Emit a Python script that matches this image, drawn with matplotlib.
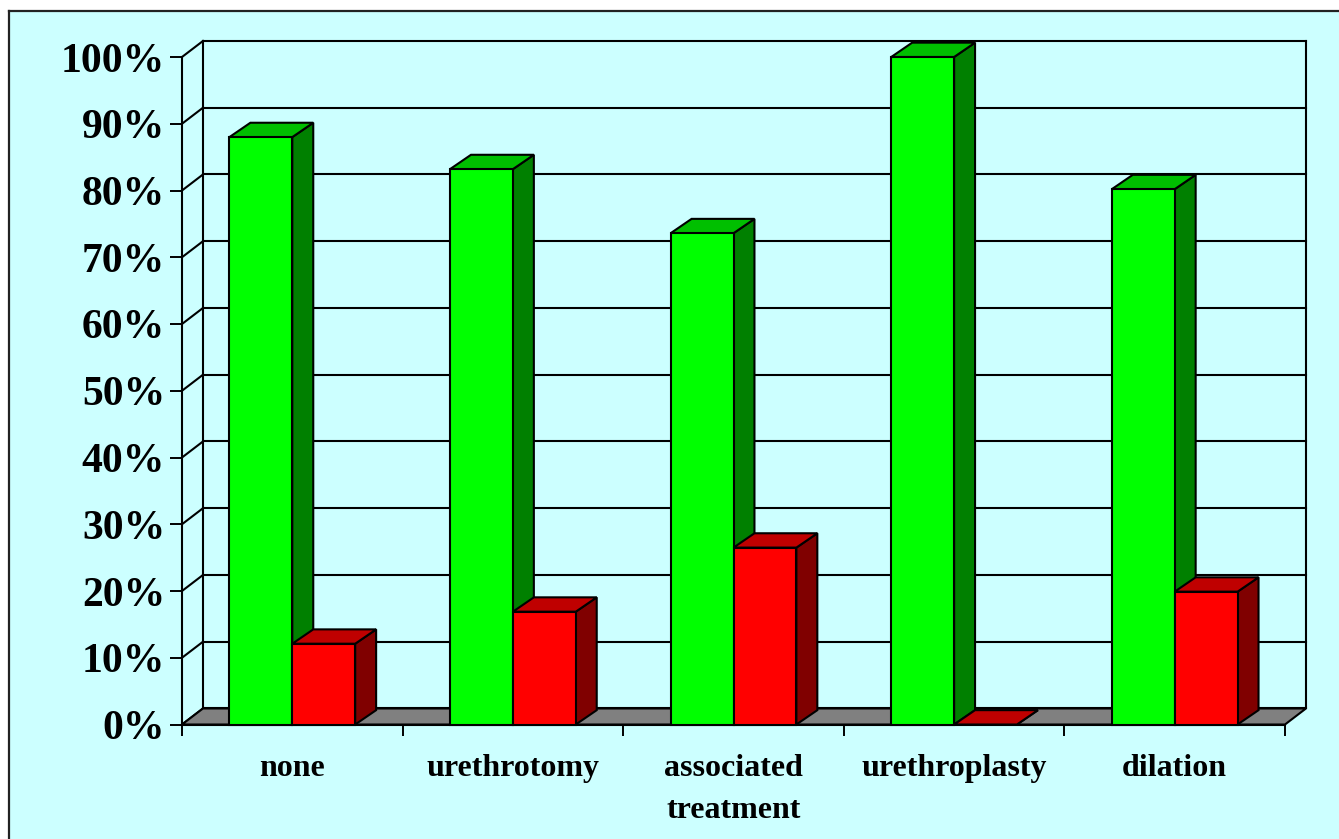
import matplotlib
matplotlib.use("Agg")
import matplotlib.pyplot as plt
from matplotlib.patches import Rectangle

categories = ["none", "urethrotomy", "associated\ntreatment", "urethroplasty", "dilation"]
green_values = [88, 83.2, 73.6, 100, 80.2]
red_values = [12.1, 16.9, 26.5, 0, 19.9]
y_ticks = list(range(0, 101, 10))

W, H = 1339, 839
# depth of the fake 3D, in data units
dx = 0.095
dy = 2.4
bar_dy = 2.15
bar_w = 0.285

plt.rcParams["font.family"] = ["Liberation Serif", "DejaVu Serif"]
plt.rcParams["font.weight"] = "bold"

fig = plt.figure(figsize=(W / 100, H / 100), dpi=100, facecolor="white")

# cyan panel with the line on top and left only
fig.add_artist(Rectangle((9 / W, 0), 1 - 9 / W, 1 - 11 / H, transform=fig.transFigure,
                         facecolor="#CCFFFF", edgecolor="none", zorder=-3))
fig.add_artist(plt.Line2D([9 / W, 9 / W], [0, 1 - 11 / H], color="#222222", lw=1.6, zorder=-2))
fig.add_artist(plt.Line2D([9 / W, 1], [1 - 11 / H, 1 - 11 / H], color="#222222", lw=1.6, zorder=-2))

ax = fig.add_axes([182 / W, 1 - 724.5 / H, 1103 / W, 667.5 / H])
ax.set_xlim(0, 5)
ax.set_ylim(0, 100)
ax.patch.set_alpha(0)
for s in ["top", "right"]:
    ax.spines[s].set_visible(False)
for s in ["left", "bottom"]:
    ax.spines[s].set_linewidth(1.5)
    ax.spines[s].set_zorder(1)

lw = 1.5
# floor
ax.fill([0, 5, 5 + dx, dx], [0, 0, dy, dy], facecolor="#808080", edgecolor="black",
        lw=lw, clip_on=False, zorder=1.5)
# back wall and grid
for v in y_ticks:
    ax.plot([dx, 5 + dx], [v + dy, v + dy], color="black", lw=lw, clip_on=False, zorder=1)
    ax.plot([0, dx], [v, v + dy], color="black", lw=lw, clip_on=False, zorder=1)
ax.plot([dx, dx], [dy, 100 + dy], color="black", lw=lw, clip_on=False, zorder=1)
ax.plot([5 + dx, 5 + dx], [dy, 100 + dy], color="black", lw=lw, clip_on=False, zorder=1)


def bar3d(x, v, front, top, side, z):
    ax.fill([x + bar_w, x + bar_w + dx, x + bar_w + dx, x + bar_w], [0, bar_dy, v + bar_dy, v],
            facecolor=side, edgecolor="black", lw=lw, clip_on=False, zorder=z)
    ax.fill([x, x + dx, x + bar_w + dx, x + bar_w], [v, v + bar_dy, v + bar_dy, v],
            facecolor=top, edgecolor="black", lw=lw, clip_on=False, zorder=z)
    if v > 0:
        ax.bar(x, v, width=bar_w, align="edge", color=front, edgecolor="black",
               linewidth=lw, clip_on=False, zorder=z + 0.1)


for i in range(len(categories)):
    c = i + 0.5
    bar3d(c - bar_w, green_values[i], "#00FF00", "#00BF00", "#008000", 3 + i)
    bar3d(c, red_values[i], "#FF0000", "#BF0000", "#800000", 3.5 + i)

ax.set_yticks(y_ticks)
ax.set_yticklabels([f"{v}%" for v in y_ticks], fontsize=30, fontweight="bold")
ax.tick_params(axis="y", length=8.6, width=1.4, pad=3.5)
ax.set_xticks(range(6))
ax.set_xticklabels([])
ax.tick_params(axis="x", which="major", length=8, width=1.4)
ax.set_xticks([i + 0.5 for i in range(5)], minor=True)
ax.set_xticklabels(categories, minor=True, fontsize=23, fontweight="bold", linespacing=1.58)
ax.tick_params(axis="x", which="minor", length=0, pad=21.5)

fig.savefig("out.png", dpi=100, facecolor="white")
